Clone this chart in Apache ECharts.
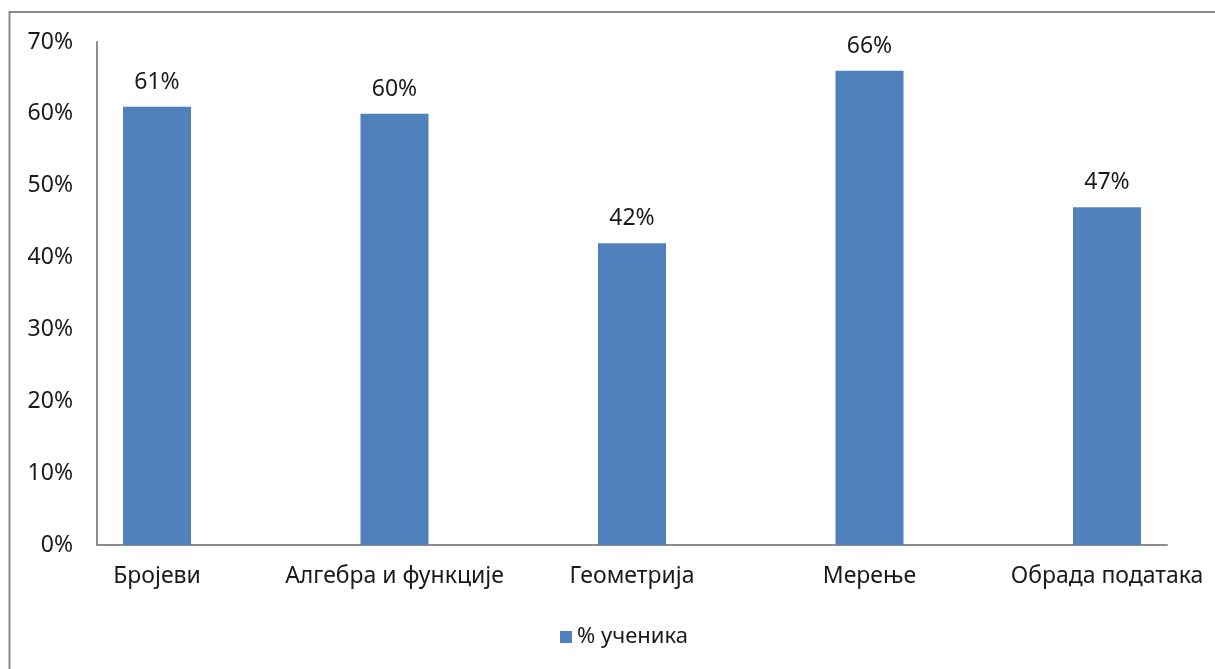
<!DOCTYPE html>
<html>
<head>
<meta charset="utf-8">
<script src="https://cdn.jsdelivr.net/npm/echarts@6/dist/echarts.min.js"></script>
<style>
  html, body { margin: 0; padding: 0; background: #fff; }
  #chart { width: 1215px; height: 669px; }
</style>
</head>
<body>
<div id="chart"></div>
<script>
// Области и проценат ученика
const categories = ['Бројеви', 'Алгебра и функције', 'Геометрија', 'Мерење', 'Обрада података'];
const values = [61, 60, 42, 66, 47];
const seriesName = '% ученика';
const yTicks = [0, 10, 20, 30, 40, 50, 60, 70];

const FONT = '"Noto Sans", "DejaVu Sans", sans-serif';
const TEXT = '#1a1a1a';
const AXIS = '#8c8c8c';

const chart = echarts.init(document.getElementById('chart'));
chart.setOption({
  animation: false,
  backgroundColor: '#fff',
  textStyle: { fontFamily: FONT },
  graphic: [{
    type: 'rect',
    shape: { x: 9.5, y: 12, width: 1240, height: 700 },
    style: { fill: 'none', stroke: '#8a8a8a', lineWidth: 2 },
    silent: true
  }],
  legend: {
    data: [seriesName],
    left: 555,
    top: 621,
    itemWidth: 12,
    itemHeight: 12,
    icon: 'rect',
    itemGap: 6,
    textStyle: { fontFamily: FONT, fontSize: 22, color: TEXT }
  },
  grid: [
    // bars: category centres sit on the grid's points (no boundary gap)
    { left: 157, width: 950, top: 42, height: 503, containLabel: false },
    // axis frame
    { left: 97, width: 1070, top: 42, height: 503, containLabel: false }
  ],
  xAxis: [
    {
      type: 'category', gridIndex: 0, data: categories, boundaryGap: false,
      axisLine: { show: false }, axisTick: { show: false },
      axisLabel: { fontFamily: FONT, fontSize: 23, color: TEXT, margin: 20, interval: 0 }
    },
    {
      type: 'category', gridIndex: 1, data: categories,
      axisLine: { show: true, lineStyle: { color: AXIS, width: 2 } },
      axisTick: { show: false }, axisLabel: { show: false }
    }
  ],
  yAxis: [
    {
      type: 'value', gridIndex: 0, min: 0, max: yTicks[yTicks.length - 1], interval: 10,
      show: false, splitLine: { show: false }
    },
    {
      type: 'value', gridIndex: 1, min: 0, max: yTicks[yTicks.length - 1], interval: 10,
      axisLine: { show: true, lineStyle: { color: AXIS, width: 2 } },
      axisTick: { show: false },
      splitLine: { show: false },
      axisLabel: {
        fontFamily: FONT, fontSize: 23, color: TEXT, margin: 24,
        formatter: v => v + '%'
      }
    }
  ],
  series: [
    {
      name: seriesName,
      type: 'bar',
      xAxisIndex: 0, yAxisIndex: 0,
      data: values,
      barWidth: 68,
      itemStyle: { color: '#4F81BD' },
      label: {
        show: true, position: 'top', distance: 13,
        fontFamily: FONT, fontSize: 23, color: TEXT,
        formatter: p => p.value + '%'
      }
    },
    {
      name: 'axes',
      type: 'bar',
      xAxisIndex: 1, yAxisIndex: 1,
      data: [],
      silent: true
    }
  ]
});
</script>
</body>
</html>
